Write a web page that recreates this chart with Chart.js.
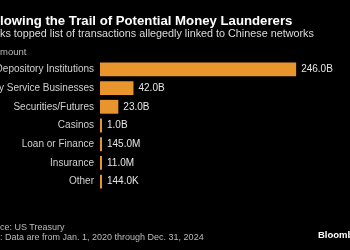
<!DOCTYPE html>
<html>
<head>
<meta charset="utf-8">
<script src="https://cdn.jsdelivr.net/npm/chart.js@4"></script>
<style>
  html, body { margin: 0; padding: 0; background: #000; }
  #wrap { position: relative; width: 350px; height: 250px; overflow: hidden; background: #000; font-family: "Liberation Sans", Arial, sans-serif; }
  #wrap canvas { position: absolute; left: 0; top: 0; }
  .t { position: absolute; white-space: nowrap; line-height: 1; }
  #title { top: 14px; font-size: 13.2px; font-weight: bold; color: #fff; }
  #sub { top: 28px; font-size: 10.8px; color: #ddd; }
  #unit { top: 47px; font-size: 9.5px; color: #bbb; }
  #src { top: 223px; font-size: 9px; color: #bbb; }
  #note { top: 233px; font-size: 9px; color: #bbb; }
  #brand { top: 230px; left: 318px; font-size: 9.5px; font-weight: bold; color: #fff; }
</style>
</head>
<body>
<div id="wrap">
  <canvas id="c" width="350" height="250"></canvas>
  <div class="t" id="title" data-cut="Fol">Following the Trail of Potential Money Launderers</div>
  <div class="t" id="sub" data-cut="Ban">Banks topped list of transactions allegedly linked to Chinese networks</div>
  <div class="t" id="unit" data-cut="A">Amount</div>
  <div class="t" id="src" data-cut="Sour">Source: US Treasury</div>
  <div class="t" id="note" data-cut="Note">Note: Data are from Jan. 1, 2020 through Dec. 31, 2024</div>
  <div class="t" id="brand">Bloomberg</div>
</div>
<script>
// Data (amounts in billions of USD)
const categories = ["Depository Institutions", "Money Service Businesses", "Securities/Futures", "Casinos", "Loan or Finance", "Insurance", "Other"];
const amounts = [246.0, 42.0, 23.0, 1.0, 0.145, 0.011, 0.000144];

function fmtAmount(v) {
  if (v >= 1) return v.toFixed(1) + "B";
  if (v >= 0.001) return (v * 1000).toFixed(1) + "M";
  return (v * 1e6).toFixed(1) + "K";
}

// Position cropped text so the hidden prefix falls left of the frame
const mc = document.createElement("canvas").getContext("2d");
document.querySelectorAll(".t[data-cut]").forEach(el => {
  const cs = getComputedStyle(el);
  mc.font = cs.fontWeight + " " + cs.fontSize + " " + cs.fontFamily;
  el.style.left = (-mc.measureText(el.dataset.cut).width) + "px";
});

const valueLabels = {
  id: "valueLabels",
  afterDatasetsDraw(chart) {
    const ctx = chart.ctx;
    const meta = chart.getDatasetMeta(0);
    ctx.save();
    ctx.font = "10px 'Liberation Sans', Arial, sans-serif";
    ctx.fillStyle = "#e6e6e6";
    ctx.textAlign = "left";
    ctx.textBaseline = "middle";
    meta.data.forEach((bar, i) => {
      ctx.fillText(fmtAmount(amounts[i]), bar.x + 5, bar.y);
    });
    ctx.restore();
  }
};

new Chart(document.getElementById("c"), {
  type: "bar",
  data: {
    labels: categories,
    datasets: [{
      data: amounts,
      backgroundColor: "#e8952e",
      borderWidth: 0,
      barPercentage: 0.74,
      categoryPercentage: 1,
      minBarLength: 2
    }]
  },
  options: {
    indexAxis: "y",
    responsive: false,
    animation: false,
    events: [],
    layout: { padding: { top: 60, bottom: 59, right: 10, left: 0 } },
    plugins: { legend: { display: false }, tooltip: { enabled: false } },
    scales: {
      x: { display: false, min: 0, max: 301 },
      y: {
        grid: { display: false, drawTicks: false },
        border: { display: false },
        ticks: { color: "#d0d0d0", padding: 6, font: { size: 10, family: "'Liberation Sans', Arial, sans-serif" } },
        afterFit(s) { s.width = 100; }
      }
    }
  },
  plugins: [valueLabels]
});
</script>
</body>
</html>
